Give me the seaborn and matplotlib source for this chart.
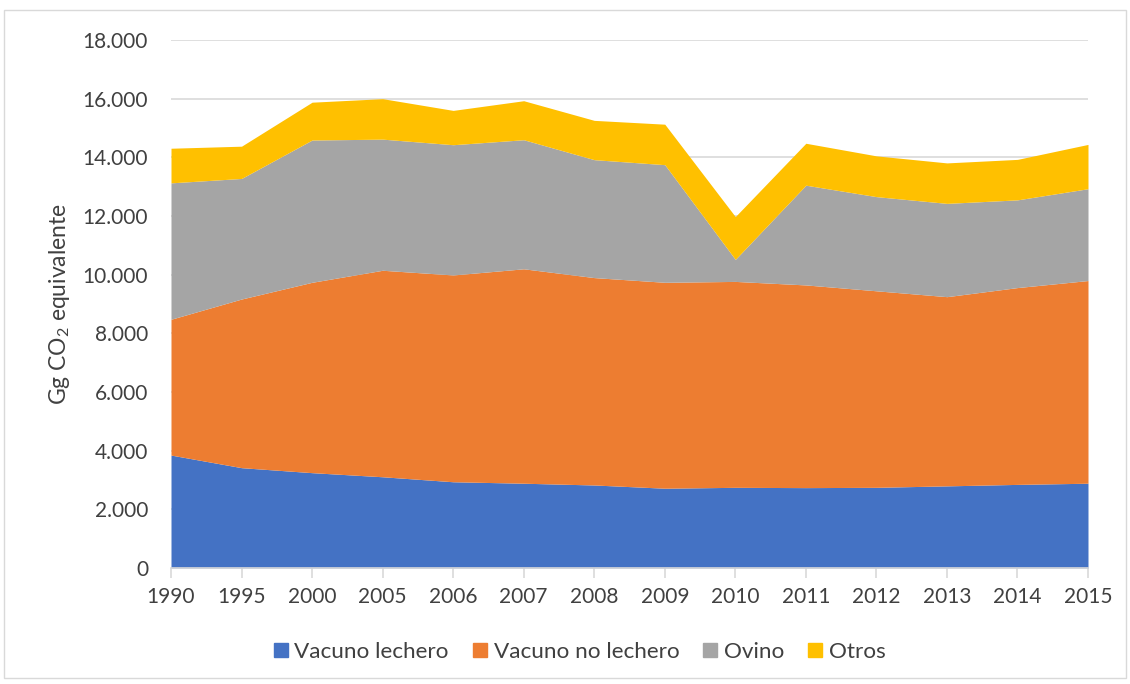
import numpy as np
import pandas as pd
import matplotlib
matplotlib.use("Agg")
import matplotlib.pyplot as plt
import matplotlib.ticker as mticker
from matplotlib.patches import Rectangle
import seaborn as sns

years = ["1990", "1995", "2000", "2005", "2006", "2007", "2008", "2009",
         "2010", "2011", "2012", "2013", "2014", "2015"]
vacuno_lechero = [3850, 3420, 3250, 3110, 2940, 2890, 2830, 2720, 2750, 2740, 2750, 2800, 2850, 2890]
vacuno_no_lechero = [4630, 5750, 6490, 7040, 7050, 7310, 7070, 7020, 7020, 6910, 6700, 6450, 6710, 6910]
ovino = [4650, 4110, 4850, 4470, 4440, 4400, 4020, 4010, 750, 3400, 3210, 3180, 2990, 3130]
otros = [1180, 1100, 1290, 1380, 1170, 1330, 1340, 1380, 1460, 1430, 1390, 1380, 1380, 1510]
series_names = ["Vacuno lechero", "Vacuno no lechero", "Ovino", "Otros"]
colors = ["#4472C4", "#ED7D31", "#A5A5A5", "#FFC000"]

df = pd.DataFrame({"Año": years, series_names[0]: vacuno_lechero,
                   series_names[1]: vacuno_no_lechero, series_names[2]: ovino,
                   series_names[3]: otros})

sns.set_theme(style="white")
font = "Lato"
plt.rcParams["font.family"] = [font, "DejaVu Sans"]
plt.rcParams["mathtext.fontset"] = "custom"
plt.rcParams["mathtext.rm"] = font
plt.rcParams["mathtext.it"] = font
plt.rcParams["mathtext.default"] = "rm"
palette = sns.color_palette(colors)

fig = plt.figure(figsize=(11.3, 6.84), dpi=100)
ax = fig.add_axes([171/1130, 1 - 568/684, 917/1130, 528/684])

x = np.arange(len(years))
ax.stackplot(x, *[df[n].values for n in series_names], colors=palette,
             labels=series_names, linewidth=0, zorder=2)

ax.set_xlim(0, len(years) - 1)
ax.set_ylim(0, 18000)
ax.set_yticks(np.arange(0, 18001, 2000))
ax.yaxis.set_major_formatter(mticker.FuncFormatter(lambda v, p: f"{int(v):,}".replace(",", ".")))
ax.set_xticks(x)
ax.set_xticklabels(years)
ax.grid(axis="y", color="#D9D9D9", linewidth=1.2, zorder=0)
ax.set_axisbelow(True)
sns.despine(ax=ax, left=True, top=True, right=True)
ax.spines["bottom"].set_color("#D9D9D9")
ax.spines["bottom"].set_linewidth(1.2)
ax.spines["bottom"].set_zorder(3)
ax.tick_params(axis="x", length=7, width=1.2, color="#D9D9D9",
               labelsize=15, pad=7, bottom=True)
ax.tick_params(axis="y", length=0, labelsize=15, pad=16.5)
for lbl in ax.get_xticklabels() + ax.get_yticklabels():
    lbl.set_color("#404040")

ax.set_ylabel("Gg CO$_2$ equivalente", fontsize=16.5, color="#404040")
ax.yaxis.set_label_coords(-0.108, 0.5)

handles = [Rectangle((0, 0), 1, 1, color=c) for c in palette]
leg = fig.legend(handles, series_names, loc="center", bbox_to_anchor=(579.5/1130, 1 - 652/684),
                 ncol=4, frameon=False, fontsize=16.2, handlelength=0.63, handleheight=0.63,
                 handletextpad=0.3, columnspacing=1.05, borderpad=0, borderaxespad=0)
for t in leg.get_texts():
    t.set_color("#404040")

fig.add_artist(Rectangle((4/1130, 6/684), 1 - 8/1130, 1 - 16/684, transform=fig.transFigure,
                         fill=False, edgecolor="#D9D9D9", linewidth=1))

fig.savefig("out.png", dpi=100)
